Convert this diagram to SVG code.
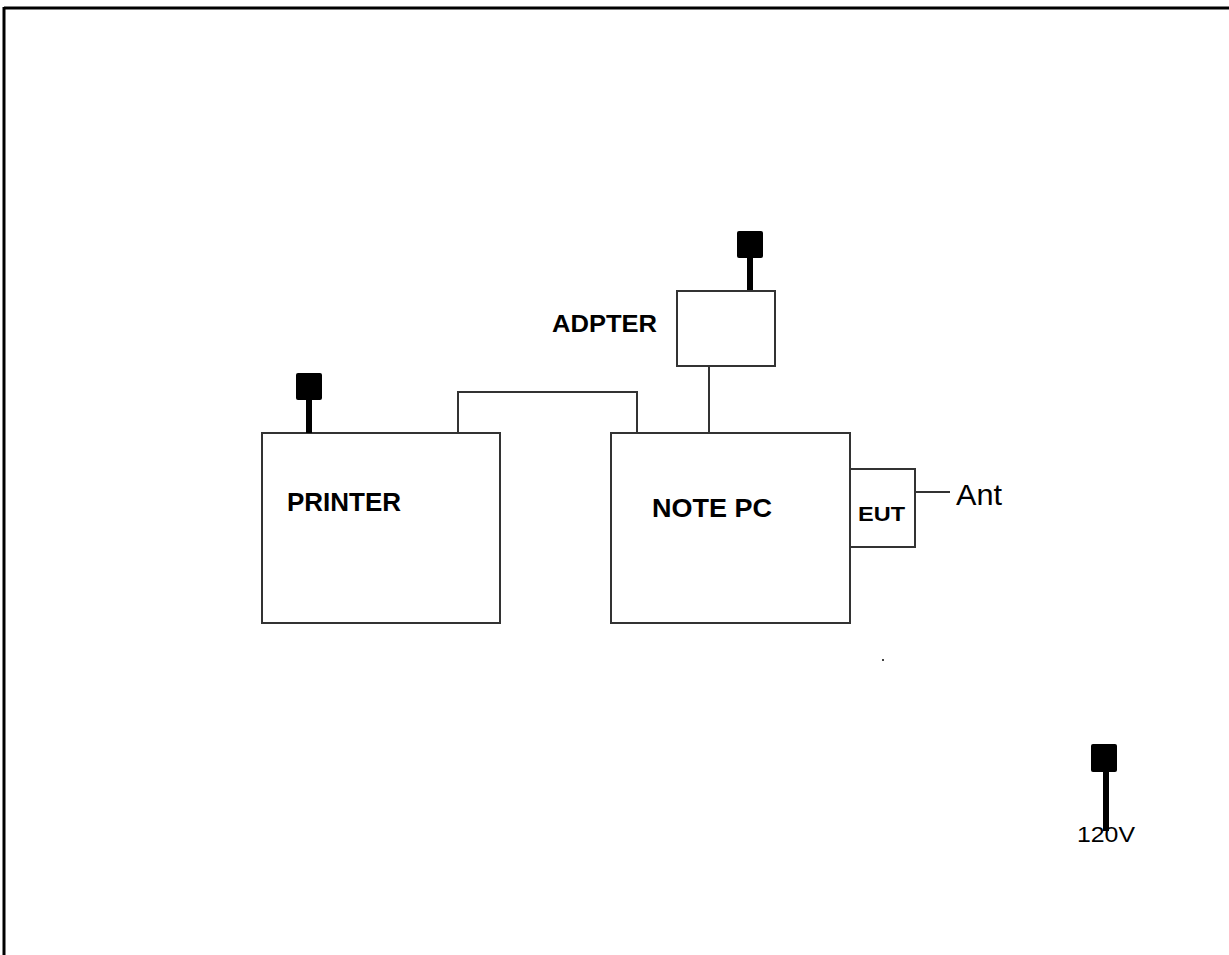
<svg xmlns="http://www.w3.org/2000/svg" width="1229" height="955" viewBox="0 0 1229 955">
<style>
.box{fill:#fff;stroke:#333;stroke-width:2}
.wire{fill:none;stroke:#333;stroke-width:2}
.plug{fill:#000}
.lbl{font-family:"Liberation Sans",Arial,sans-serif;font-weight:bold;fill:#000}
.reg{font-family:"Liberation Sans",Arial,sans-serif;font-weight:normal;fill:#000}
</style>
<defs>
<g id="plugsym">
<rect class="plug" x="-13" y="0" width="26" height="27" rx="2"/>
<rect class="plug" x="-3" y="26" width="6" height="34"/>
</g>
</defs>
<rect width="1229" height="955" fill="#fff"/>
<g id="frame">
<line x1="4" y1="8" x2="1229" y2="8" stroke="#000" stroke-width="3"/>
<line x1="4" y1="7" x2="4" y2="955" stroke="#000" stroke-width="3"/>
</g>
<g id="connectors">
<polyline class="wire" points="458,433 458,392 637,392 637,433"/>
<line class="wire" x1="709" y1="366" x2="709" y2="433"/>
<line class="wire" x1="915" y1="492" x2="950" y2="492"/>
</g>
<g id="printer">
<rect class="box" x="262" y="433" width="238" height="190"/>
<use href="#plugsym" x="309" y="373"/>
<text class="lbl" x="287" y="511" font-size="25" textLength="114" lengthAdjust="spacingAndGlyphs">PRINTER</text>
</g>
<g id="notepc">
<rect class="box" x="611" y="433" width="239" height="190"/>
<text class="lbl" x="652" y="516.5" font-size="25" textLength="120" lengthAdjust="spacingAndGlyphs">NOTE PC</text>
</g>
<g id="adapter">
<use href="#plugsym" x="750" y="231"/>
<rect class="box" x="677" y="291" width="98" height="75"/>
<text class="lbl" x="552" y="331.5" font-size="24" textLength="105" lengthAdjust="spacingAndGlyphs">ADPTER</text>
</g>
<g id="eut">
<rect class="box" x="850" y="469" width="65" height="78"/>
<text class="lbl" x="858" y="521" font-size="20" textLength="47" lengthAdjust="spacingAndGlyphs">EUT</text>
</g>
<g id="ant">
<text class="reg" x="956" y="505" font-size="29" textLength="46" lengthAdjust="spacingAndGlyphs">Ant</text>
</g>
<g id="mains">
<rect class="plug" x="1091" y="744" width="26" height="28" rx="2"/>
<rect class="plug" x="1103" y="771" width="6" height="60"/>
<text class="reg" x="1077" y="842" font-size="22" textLength="58" lengthAdjust="spacingAndGlyphs">120V</text>
</g>
<rect x="882" y="659" width="2" height="2" fill="#444"/>
</svg>
